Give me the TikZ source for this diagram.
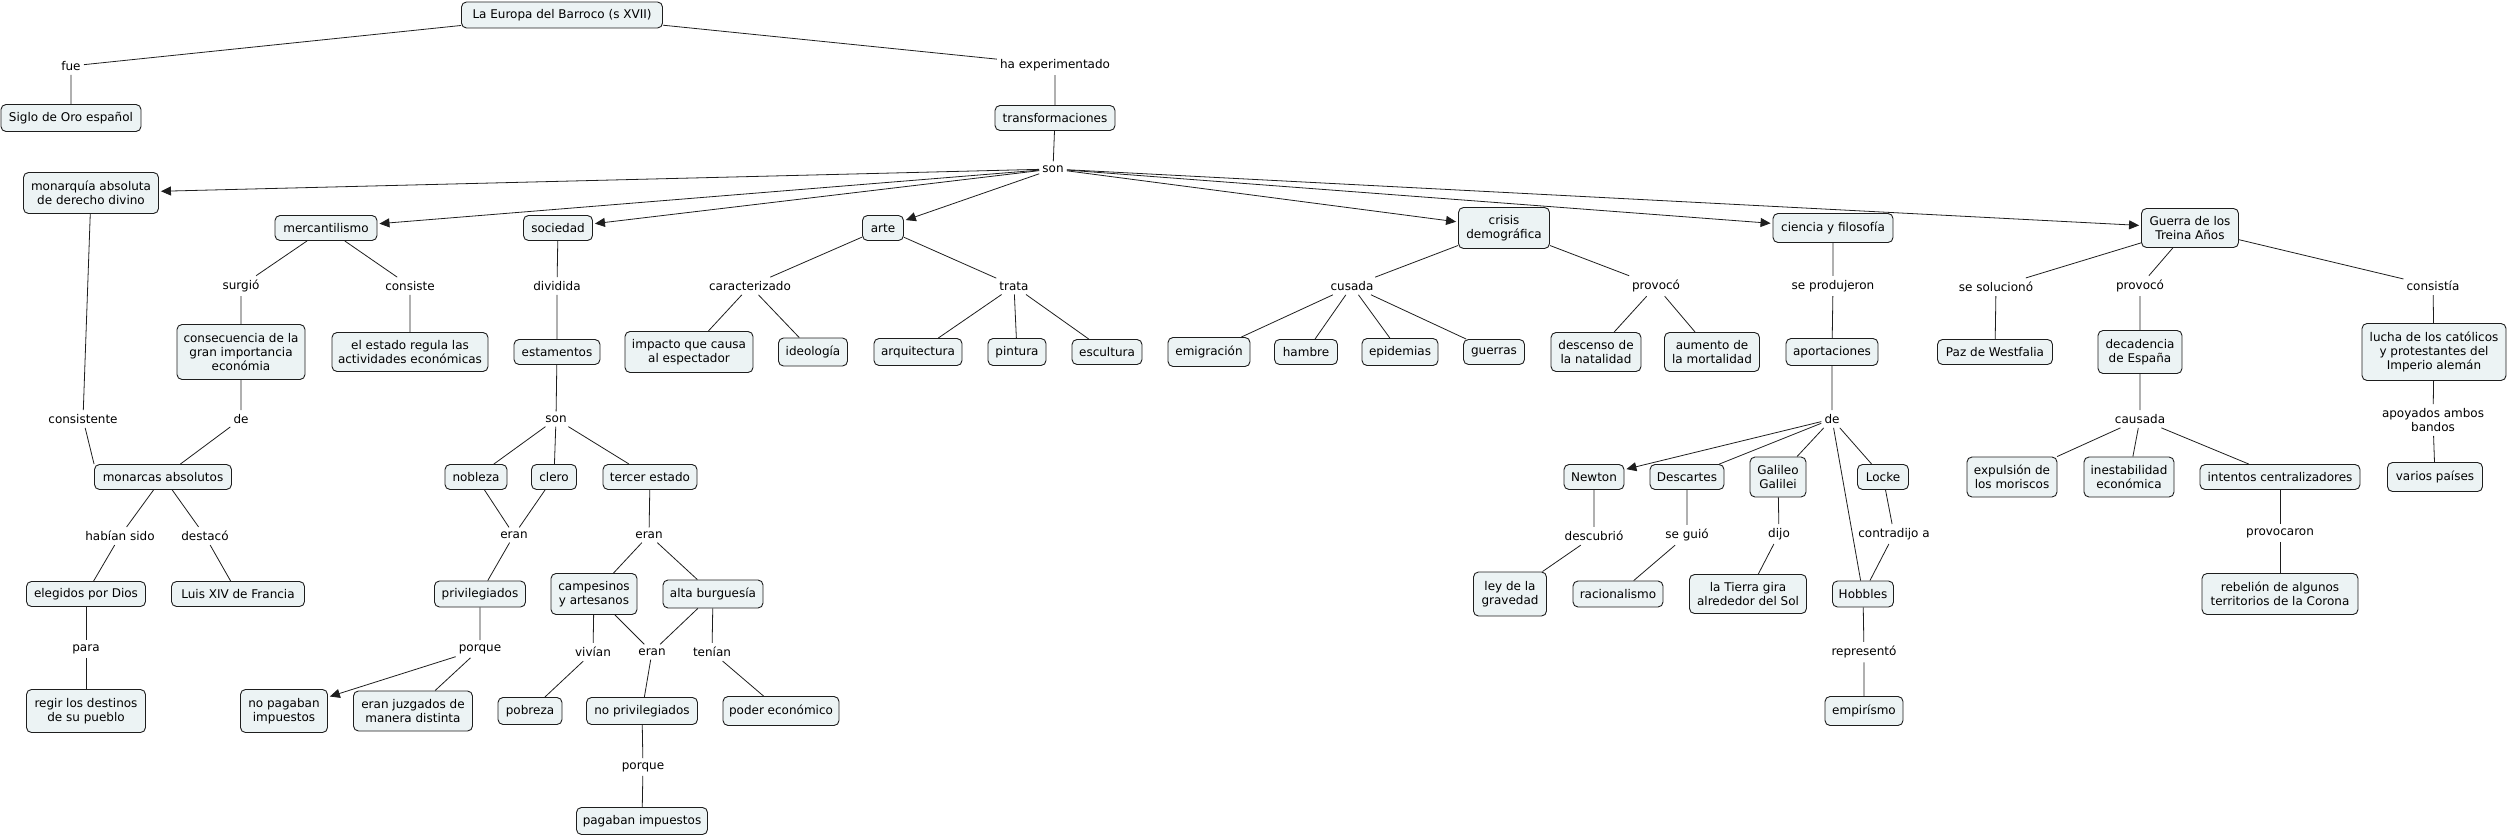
\documentclass[tikz,border=0pt]{standalone}
\usepackage{fontspec}
\setmainfont{DejaVu Sans}
\usetikzlibrary{arrows.meta}
\definecolor{boxfill}{RGB}{236,243,244}
\definecolor{boxline}{RGB}{30,30,30}
\tikzset{
  cbox/.style={draw=boxline, fill=boxfill, rounded corners=5pt, line width=0.9pt,
    align=center, inner sep=2pt, font=\fontsize{12}{14.3}\selectfont},
  lbl/.style={align=center, inner xsep=3pt, inner ysep=4pt, font=\fontsize{12}{14.3}\selectfont},
  ln/.style={line width=0.8pt, draw=boxline},
  arr/.style={ln, -{Triangle[length=10pt,width=9pt]}, shorten >=2pt}
}
\newcommand{\cb}[6]{\node[cbox, minimum width=#4pt, minimum height=#5pt] (#1) at (#2,#3) {#6};}
\newcommand{\lb}[4]{\node[lbl] (#1) at (#2,#3) {#4};}
\begin{document}
\begin{tikzpicture}[x=1pt,y=-1pt]
\useasboundingbox (0,0) rectangle (2508,837);
% concept boxes
\cb{eur}{562}{15}{201}{26}{La Europa del Barroco (s XVII)}
\cb{sig}{71}{118}{140}{27}{Siglo de Oro español}
\cb{tra}{1055}{118}{120}{25}{transformaciones}
\cb{mon}{91}{193}{135}{41}{monarquía absoluta\\de derecho divino}
\cb{mer}{326}{228}{102}{25}{mercantilismo}
\cb{soc}{558}{228}{69}{25}{sociedad}
\cb{art}{883}{228}{41}{25}{arte}
\cb{cri}{1504}{228}{91}{41}{crisis\\demográfica}
\cb{cie}{1833}{228}{120}{29}{ciencia y filosofía}
\cb{gue}{2190}{228}{97}{39}{Guerra de los\\Treina Años}
\cb{con}{241}{352}{128}{55}{consecuencia de la\\gran importancia\\económia}
\cb{est}{410}{352}{156}{39}{el estado regula las\\actividades económicas}
\cb{esm}{557}{352}{86}{25}{estamentos}
\cb{imp}{689}{352}{128}{41}{impacto que causa\\al espectador}
\cb{ide}{813}{352}{69}{28}{ideología}
\cb{arq}{918}{352}{88}{27}{arquitectura}
\cb{pin}{1017}{352}{58}{27}{pintura}
\cb{esc}{1107}{352}{70}{25}{escultura}
\cb{emi}{1209}{352}{82}{29}{emigración}
\cb{ham}{1306}{352}{63}{25}{hambre}
\cb{epi}{1400}{352}{76}{27}{epidemias}
\cb{gur}{1494}{352}{61}{25}{guerras}
\cb{des}{1596}{352}{90}{39}{descenso de\\la natalidad}
\cb{aum}{1712}{352}{95}{39}{aumento de\\la mortalidad}
\cb{apo}{1832}{352}{92}{27}{aportaciones}
\cb{paz}{1995}{352}{115}{25}{Paz de Westfalia}
\cb{dec}{2140}{352}{84}{43}{decadencia\\de España}
\cb{luc}{2434}{352}{144}{57}{lucha de los católicos\\y protestantes del\\Imperio alemán}
\cb{mab}{163}{477}{137}{25}{monarcas absolutos}
\cb{nob}{476}{477}{62}{25}{nobleza}
\cb{cle}{554}{477}{45}{25}{clero}
\cb{ter}{650}{477}{94}{25}{tercer estado}
\cb{new}{1594}{477}{60}{25}{Newton}
\cb{dsc}{1687}{477}{74}{25}{Descartes}
\cb{gal}{1778}{477}{56}{40}{Galileo\\Galilei}
\cb{loc}{1883}{477}{51}{25}{Locke}
\cb{exp}{2012}{477}{90}{40}{expulsión de\\los moriscos}
\cb{ine}{2129}{477}{90}{40}{inestabilidad\\económica}
\cb{int}{2280}{477}{160}{25}{intentos centralizadores}
\cb{var}{2435}{477}{95}{29}{varios países}
\cb{ele}{86}{594}{119}{25}{elegidos por Dios}
\cb{lui}{238}{594}{133}{25}{Luis XIV de Francia}
\cb{pri}{480}{594}{91}{26}{privilegiados}
\cb{cam}{594}{594}{86}{41}{campesinos\\y artesanos}
\cb{alt}{713}{594}{100}{28}{alta burguesía}
\cb{ley}{1510}{594}{73}{44}{ley de la\\gravedad}
\cb{rac}{1618}{594}{90}{26}{racionalismo}
\cb{tie}{1748}{594}{117}{39}{la Tierra gira\\alrededor del Sol}
\cb{hob}{1863}{594}{61}{26}{Hobbles}
\cb{reb}{2280}{594}{156}{41}{rebelión de algunos\\territorios de la Corona}
\cb{reg}{86}{711}{119}{43}{regir los destinos\\de su pueblo}
\cb{nop}{284}{711}{87}{43}{no pagaban\\impuestos}
\cb{juz}{413}{711}{119}{40}{eran juzgados de\\manera distinta}
\cb{pob}{530}{711}{64}{27}{pobreza}
\cb{npr}{642}{711}{111}{27}{no privilegiados}
\cb{pod}{781}{711}{116}{29}{poder económico}
\cb{emp}{1864}{711}{78}{29}{empirísmo}
\cb{pag}{642}{821}{131}{27}{pagaban impuestos}
% linking phrases
\lb{fue}{71}{66}{fue}
\lb{hae}{1055}{65}{ha experimentado}
\lb{sona}{1053}{169}{son}
\lb{surg}{241}{286}{surgió}
\lb{cons}{410}{286}{consiste}
\lb{div}{557}{286}{dividida}
\lb{car}{750}{286}{caracterizado}
\lb{trt}{1014}{286}{trata}
\lb{cus}{1352}{286}{cusada}
\lb{prva}{1656}{286}{provocó}
\lb{spr}{1833}{286}{se produjeron}
\lb{sso}{1996}{287}{se solucionó}
\lb{prvb}{2140}{286}{provocó}
\lb{csi}{2433}{286}{consistía}
\lb{cnt}{83}{419}{consistente}
\lb{dea}{241}{419}{de}
\lb{sonb}{556}{419}{son}
\lb{deb}{1832}{419}{de}
\lb{cau}{2140}{419}{causada}
\lb{apy}{2433}{420}{apoyados ambos\\bandos}
\lb{hab}{120}{536}{habían sido}
\lb{dst}{205}{536}{destacó}
\lb{eraa}{514}{535}{eran}
\lb{erab}{649}{535}{eran}
\lb{dcb}{1594}{536}{descubrió}
\lb{sgu}{1687}{535}{se guió}
\lb{dij}{1779}{534}{dijo}
\lb{ctr}{1894}{534}{contradijo a}
\lb{prc}{2280}{533}{provocaron}
\lb{par}{86}{649}{para}
\lb{pora}{480}{649}{porque}
\lb{viv}{593}{652}{vivían}
\lb{erac}{652}{652}{eran}
\lb{ten}{712}{652}{tenían}
\lb{rep}{1864}{652}{representó}
\lb{porb}{643}{767}{porque}
% connectors
\draw[ln] (eur) -- (fue) -- (sig);
\draw[ln] (eur) -- (hae) -- (tra);
\draw[ln] (tra) -- (sona);
\foreach \t in {mon,mer,soc,art,cri,cie,gue} \draw[arr] (sona) -- (\t);
\draw[ln] (mon) -- (cnt) -- (mab.north west);
\draw[ln] (mer) -- (surg) -- (con);
\draw[ln] (mer) -- (cons) -- (est);
\draw[ln] (con) -- (dea) -- (mab);
\draw[ln] (mab) -- (hab) -- (ele);
\draw[ln] (mab) -- (dst) -- (lui);
\draw[ln] (ele) -- (par) -- (reg);
\draw[ln] (soc) -- (div) -- (esm) -- (sonb);
\foreach \t in {nob,cle,ter} \draw[ln] (sonb) -- (\t);
\draw[ln] (nob) -- (eraa);
\draw[ln] (cle) -- (eraa);
\draw[ln] (eraa) -- (pri) -- (pora);
\draw[arr] (pora) -- (nop);
\draw[ln] (pora) -- (juz);
\draw[ln] (ter) -- (erab);
\draw[ln] (erab) -- (cam);
\draw[ln] (erab) -- (alt);
\draw[ln] (cam) -- (viv) -- (pob);
\draw[ln] (cam) -- (erac);
\draw[ln] (alt) -- (erac);
\draw[ln] (erac) -- (npr) -- (porb) -- (pag);
\draw[ln] (alt) -- (ten) -- (pod);
\draw[ln] (art) -- (car);
\draw[ln] (car) -- (imp);
\draw[ln] (car) -- (ide);
\draw[ln] (art) -- (trt);
\foreach \t in {arq,pin,esc} \draw[ln] (trt) -- (\t);
\draw[ln] (cri) -- (cus);
\foreach \t in {emi,ham,epi,gur} \draw[ln] (cus) -- (\t);
\draw[ln] (cri) -- (prva);
\draw[ln] (prva) -- (des);
\draw[ln] (prva) -- (aum);
\draw[ln] (cie) -- (spr) -- (apo) -- (deb);
\draw[arr] (deb) -- (new);
\foreach \t in {dsc,gal,loc,hob} \draw[ln] (deb) -- (\t);
\draw[ln] (new) -- (dcb) -- (ley);
\draw[ln] (dsc) -- (sgu) -- (rac);
\draw[ln] (gal) -- (dij) -- (tie);
\draw[ln] (loc) -- (ctr) -- (hob);
\draw[ln] (hob) -- (rep) -- (emp);
\draw[ln] (gue) -- (sso) -- (paz);
\draw[ln] (gue) -- (prvb) -- (dec) -- (cau);
\foreach \t in {exp,ine,int} \draw[ln] (cau) -- (\t);
\draw[ln] (int) -- (prc) -- (reb);
\draw[ln] (gue) -- (csi) -- (luc) -- (apy) -- (var);
\end{tikzpicture}
\end{document}
